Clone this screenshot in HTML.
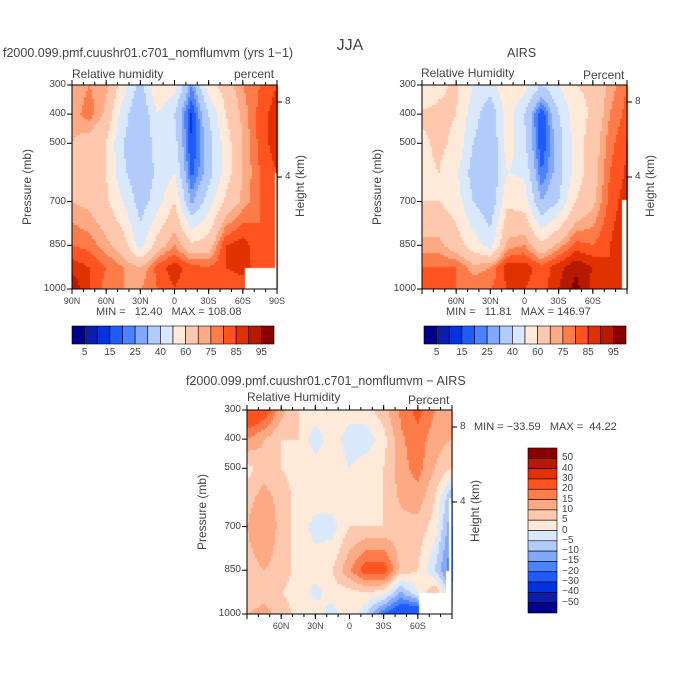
<!DOCTYPE html>
<html><head><meta charset="utf-8">
<style>
body{margin:0;background:#fff;}
#wrap{position:relative;width:700px;height:700px;background:#fff;font-family:"Liberation Sans",sans-serif;color:#444;overflow:hidden;}
.t{position:absolute;white-space:nowrap;font-size:11px;line-height:1;}
canvas{position:absolute;}
svg{position:absolute;left:0;top:0;}
</style></head><body>
<div id="wrap">
<canvas id="c" width="700" height="700"></canvas>
<svg id="s" width="700" height="700"></svg>
</div>
<script>
const lats=["90N","75N","60N","45N","30N","15N","0","15S","30S","45S","60S","75S","90S"];
const pressures=[300,400,500,600,700,850,925,1000];
const modelRH=[
[70,75,72,55,35,60,55,25,55,65,75,80,85],
[72,78,68,45,30,50,40,14,40,60,72,82,88],
[70,65,60,40,30,45,45,14,35,55,70,82,88],
[68,62,60,42,32,42,50,18,35,55,70,80,85],
[70,68,62,50,35,45,60,28,45,62,72,80,85],
[80,78,72,65,45,65,75,62,65,85,88,80,80],
[88,85,80,75,70,82,88,82,80,85,88,82,80],
[95,85,78,75,75,80,85,80,80,80,80,80,80]];
const airsRH=[
[50,58,62,50,45,60,55,40,50,60,62,72,80],
[62,62,60,45,32,55,40,15,40,55,62,75,82],
[58,62,58,40,30,55,42,15,35,55,65,78,85],
[58,60,52,35,30,50,48,20,35,55,65,80,86],
[60,60,55,40,32,58,55,30,40,60,68,82,88],
[72,72,65,55,45,72,75,62,72,82,80,85,90],
[80,80,80,72,75,88,88,82,88,94,90,85,85],
[85,80,80,80,80,85,85,82,90,97,88,85,85]];
const diffRH=[
[30,25,12,5,3,3,3,3,8,16,22,15,12],
[15,10,5,5,-3,3,-3,-3,3,14,18,12,10],
[3,8,5,3,3,3,0,3,5,13,17,10,5],
[8,12,8,3,3,3,5,3,5,11,13,5,-10],
[10,15,8,3,-2,-2,5,5,5,8,8,3,-15],
[8,10,8,3,3,5,14,24,24,8,5,-5,-20],
[5,8,5,3,-2,3,3,5,3,-10,0,10,-10],
[10,12,8,3,3,-3,5,-5,-20,-30,-30,0,0]];
const rhLevels=[5,10,15,20,25,30,40,50,60,70,75,80,85,90,95];
const rhTickLabels=["5","15","25","40","60","75","85","95"];
const diffLevels=[-50,-40,-30,-20,-15,-10,-5,0,5,10,15,20,30,40,50];
const diffTickLabels=["50","40","30","20","15","10","5","0","\u22125","\u221210","\u221215","\u221220","\u221230","\u221240","\u221250"];
const colors=["#00008a","#0a1eaa","#0033dd","#1e5aff","#4a82ff","#82a8fa","#b2cbfb","#d9e9fb","#ffe9d9","#fdc8ae","#fca984","#fe7c4a","#ff5320","#e03200","#b51a00","#880000"];

const ctx=document.getElementById('c').getContext('2d');
const svg=document.getElementById('s');
const wrap=document.getElementById('wrap');
const NS="http://www.w3.org/2000/svg";
function colorFor(v,lv){let i=0;while(i<lv.length&&v>=lv[i])i++;return colors[i];}
function val(data,fx,p){
  const xi=fx*(lats.length-1);let i0=Math.min(Math.floor(xi),lats.length-2);const tx=xi-i0;
  let j=0;while(j<pressures.length-2&&p>pressures[j+1])j++;
  const ty=(p-pressures[j])/(pressures[j+1]-pressures[j]);
  const a=data[j][i0]*(1-tx)+data[j][i0+1]*tx;const b=data[j+1][i0]*(1-tx)+data[j+1][i0+1]*tx;
  return a*(1-ty)+b*ty;}
function el(tag,attrs,name){const e=document.createElementNS(NS,tag);for(const k in attrs)e.setAttribute(k,attrs[k]);
  
  
  svg.appendChild(e);return e;}
function txt(x,y,s,name,opts){const d=document.createElement('div');d.className='t';d.textContent=s;
  
  
  d.style.left=x+'px';d.style.top=y+'px';if(opts)Object.assign(d.style,opts);wrap.appendChild(d);return d;}
function panel(px,py,data,lv,masks,allLabels,id){
  const W=205,H=204,step=2;
  const xs=x=>px+x*W, ys=p=>py+(p-300)/700*H;
  for(let y=0;y<H;y+=step)for(let x=0;x<W;x+=step){
    const v=val(data,(x+step/2)/W,300+(y+step/2)/H*700);
    ctx.fillStyle=colorFor(v,lv);ctx.fillRect(px+x,py+y,step,step);}
  ctx.fillStyle="#fff";masks.forEach(m=>ctx.fillRect(m[0],m[1],m[2],m[3]));
  el('rect',{x:px,y:py,width:W,height:H,fill:'none',stroke:'#000','stroke-width':1},id+'-frame');
  [300,400,500,700,850,1000].forEach(p=>{const y=ys(p);
    el('line',{x1:px-5,y1:y,x2:px,y2:y,stroke:'#000'},id+'-y-tick');
    txt(px-32,y-5,String(p),id+'-y-tick-label',{width:'26px',textAlign:'right',fontSize:'10px'});});
  const labs=["90N","60N","30N","0","30S","60S","90S"];
  labs.forEach((l,i)=>{const x=xs(i/6);
    el('line',{x1:x,y1:py+H,x2:x,y2:py+H+5,stroke:'#000'},id+'-x-tick');
    el('line',{x1:x,y1:py,x2:x,y2:py-5,stroke:'#000'},id+'-x-top-tick');
    if(allLabels||(i>0&&i<6))txt(x-15,py+H+8,l,id+'-x-tick-label',{width:'30px',textAlign:'center',fontSize:'9px'});});
  for(let i=0;i<18;i++){const x=xs(i/18);
    el('line',{x1:x,y1:py+H,x2:x,y2:py+H+3,stroke:'#000'},id+'-x-minor-tick');
    el('line',{x1:x,y1:py,x2:x,y2:py-3,stroke:'#000'},id+'-x-top-minor-tick');}
  [[102,"8"],[177,"4"]].forEach(h=>{const y=py+h[0]-85;
    el('line',{x1:px+W,y1:y,x2:px+W+5,y2:y,stroke:'#000'},id+'-height-tick');
    txt(px+W+8,y-5,h[1],id+'-height-label',{fontSize:'10px'});});
  txt(px-50,py+H/2-6,"Pressure (mb)",id+'-y-axis-title',{transform:'rotate(-90deg)',width:'100px',textAlign:'center',fontSize:'12px',left:(px-95)+'px'});
  txt(px+W-22,py+H/2-7,"Height (km)",id+'-height-axis-title',{transform:'rotate(-90deg)',width:'90px',textAlign:'center',fontSize:'12px'});
}
function hbar(x0,y0,name){const w=202/16;
  colors.forEach((c,i)=>{el('rect',{x:x0+i*w,y:y0,width:w,height:18,fill:c,stroke:'#000','stroke-width':0.6},name+'-box');});
  rhTickLabels.forEach((l,k)=>{const x=x0+(2*k+1)*w;txt(x-10,y0+22,l,name+'-label',{width:'20px',textAlign:'center',fontSize:'10px'});});}

txt(0,38,"JJA","figure-title",{width:'700px',textAlign:'center',fontSize:'16px'});
txt(3,47,"f2000.099.pmf.cuushr01.c701_nomflumvm (yrs 1\u22121)","panel1-title",{fontSize:'12.5px'});
txt(72,68,"Relative humidity","panel1-left-label",{fontSize:'12px'});
txt(234,68,"percent","panel1-right-label",{fontSize:'12px'});
panel(72,85,modelRH,rhLevels,[[245,268,32,21],[275,173,2,116]],true,'panel1');
txt(96,307,"MIN =   12.40   MAX = 108.08","panel1-minmax",{fontSize:'11px',whiteSpace:'pre'});
hbar(72,326,'panel1-colorbar');

txt(507,47,"AIRS","panel2-title",{fontSize:'12.5px'});
txt(421,67,"Relative Humidity","panel2-left-label",{fontSize:'12px'});
txt(583,69,"Percent","panel2-right-label",{fontSize:'12px'});
panel(422,85,airsRH,rhLevels,[[622,200,5,89]],false,'panel2');
txt(446,307,"MIN =   11.81   MAX = 146.97","panel2-minmax",{fontSize:'11px',whiteSpace:'pre'});
hbar(424,326,'panel2-colorbar');

txt(186,375,"f2000.099.pmf.cuushr01.c701_nomflumvm \u2212 AIRS","panel3-title",{fontSize:'12.5px'});
txt(247,391,"Relative Humidity","panel3-left-label",{fontSize:'12px'});
txt(408,394,"Percent","panel3-right-label",{fontSize:'12px'});
panel(247,410,diffRH,diffLevels,[[419,593,33,21],[446,571,6,43],[449,498,3,116]],false,'panel3');
txt(474,422,"MIN = \u221233.59   MAX =  44.22","panel3-minmax",{fontSize:'11px',whiteSpace:'pre'});
{const h=165/16;
 colors.slice().reverse().forEach((c,i)=>{el('rect',{x:528,y:448+i*h,width:29,height:h,fill:c,stroke:'#000','stroke-width':0.6},'panel3-colorbar-box');});
 diffTickLabels.forEach((l,k)=>{txt(562,448+(k+1)*h-5,l,'panel3-colorbar-label',{fontSize:'10px'});});}
</script>
</body></html>
